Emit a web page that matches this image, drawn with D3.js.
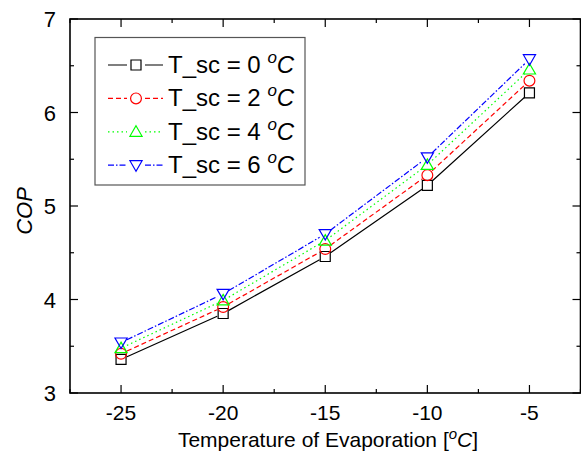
<!DOCTYPE html>
<html><head><meta charset="utf-8">
<script src="https://cdn.jsdelivr.net/npm/d3@7"></script>
<style>body{margin:0;background:#fff}svg{display:block;font-family:"Liberation Sans",Arial,sans-serif}</style>
</head><body><svg id="c" width="581" height="458"></svg>
<script>
const temps = [-25, -20, -15, -10, -5];
const cop0 = [3.36, 3.85, 4.46, 5.22, 6.21];
const cop2 = [3.42, 3.92, 4.54, 5.33, 6.34];
const cop4 = [3.48, 3.99, 4.63, 5.44, 6.46];
const cop6 = [3.54, 4.06, 4.70, 5.52, 6.57];
const seriesLabels = ["0", "2", "4", "6"];
const xTicks = [-25, -20, -15, -10, -5];
const yTicks = [3, 4, 5, 6, 7];

const series = [
  {vals: cop0, label: seriesLabels[0], color: "#000000", dash: null, sym: "square"},
  {vals: cop2, label: seriesLabels[1], color: "#ff0000", dash: "5,3", sym: "circle"},
  {vals: cop4, label: seriesLabels[2], color: "#00ff00", dash: "1.5,3", sym: "up"},
  {vals: cop6, label: seriesLabels[3], color: "#0000ff", dash: "6,2,1.5,2", sym: "down"}
];

const svg = d3.select("#c");
const x = d3.scaleLinear().domain([-27.5, -2.5]).range([70, 580.5]);
const y = d3.scaleLinear().domain([3, 7]).range([393, 19]);
const [x0, x1] = x.range(), [y0, y1] = [y.range()[1], y.range()[0]];

function symPath(kind) {
  if (kind === "square") return d3.symbol(d3.symbolSquare, 100)();
  if (kind === "circle") return d3.symbol(d3.symbolCircle, 92)();
  return d3.symbol(d3.symbolTriangle, 64)();
}
function drawMarker(g, kind, px, py, color) {
  const p = g.append("path").attr("d", symPath(kind))
    .attr("fill", "none").attr("stroke", color).attr("stroke-width", 1.2);
  let t = `translate(${px},${py})`;
  if (kind === "up") t += " translate(0,1)";
  if (kind === "down") t += " translate(0,-1) rotate(180)";
  p.attr("transform", t);
}

// ticks (inward) on all sides
const ax = svg.append("g").attr("stroke", "#000").attr("stroke-width", 1.2);
const xMinor = d3.range(-27.5, -2.4, 2.5);
xMinor.forEach(v => {
  const major = xTicks.includes(v);
  const L = major ? 8 : 4;
  ax.append("line").attr("x1", x(v)).attr("x2", x(v)).attr("y1", y1).attr("y2", y1 - L);
  ax.append("line").attr("x1", x(v)).attr("x2", x(v)).attr("y1", y0).attr("y2", y0 + L);
});
d3.range(3, 7.01, 0.5).forEach(v => {
  const major = Math.abs(v - Math.round(v)) < 1e-6;
  const L = major ? 8 : 4;
  ax.append("line").attr("x1", x0).attr("x2", x0 + L).attr("y1", y(v)).attr("y2", y(v));
  ax.append("line").attr("x1", x1).attr("x2", x1 - L).attr("y1", y(v)).attr("y2", y(v));
});
// frame
svg.append("rect").attr("x", x0).attr("y", y0).attr("width", x1 - x0).attr("height", y1 - y0)
  .attr("fill", "none").attr("stroke", "#000").attr("stroke-width", 1.6);

// tick labels
svg.append("g").selectAll("text").data(xTicks).join("text")
  .attr("x", d => x(d)).attr("y", 420).attr("text-anchor", "middle")
  .attr("font-size", 21).text(d => d);
svg.append("g").selectAll("text").data(yTicks).join("text")
  .attr("x", 56).attr("y", d => y(d) + 8).attr("text-anchor", "end")
  .attr("font-size", 22).text(d => d);

// axis titles
const xt = svg.append("text").attr("x", 328).attr("y", 447).attr("text-anchor", "middle").attr("font-size", 21);
xt.append("tspan").text("Temperature of Evaporation [");
xt.append("tspan").attr("font-style", "italic").attr("font-size", 15).attr("dy", -8).text("o");
xt.append("tspan").attr("font-style", "italic").attr("dy", 8).text("C");
xt.append("tspan").text("]");
svg.append("text").attr("transform", "translate(32,211) rotate(-90)").attr("text-anchor", "middle")
  .attr("font-size", 22).attr("font-style", "italic").text("COP");

// series lines with gaps at markers
const gap = 6.5;
series.forEach(s => {
  const pts = temps.map((t, i) => [x(t), y(s.vals[i])]);
  let d = "";
  for (let i = 0; i < pts.length - 1; i++) {
    const [ax1, ay1] = pts[i], [bx, by] = pts[i + 1];
    const dx = bx - ax1, dy = by - ay1, len = Math.hypot(dx, dy);
    const ux = dx / len, uy = dy / len;
    d += `M${ax1 + ux * gap},${ay1 + uy * gap}L${bx - ux * gap},${by - uy * gap}`;
  }
  svg.append("path").attr("d", d).attr("fill", "none").attr("stroke", s.color)
    .attr("stroke-width", 1.2).attr("stroke-dasharray", s.dash);
});
series.forEach(s => {
  const g = svg.append("g");
  temps.forEach((t, i) => drawMarker(g, s.sym, x(t), y(s.vals[i]), s.color));
});

// legend
const lg = svg.append("g");
lg.append("rect").attr("x", 95).attr("y", 37.5).attr("width", 210).attr("height", 147.5)
  .attr("fill", "#fff").attr("stroke", "#555").attr("stroke-width", 1.2);
series.forEach((s, i) => {
  const cy = 65 + i * 33.4;
  lg.append("path").attr("d", `M108,${cy}H127M145,${cy}H163`).attr("stroke", s.color)
    .attr("stroke-width", 1.2).attr("stroke-dasharray", s.dash).attr("fill", "none");
  drawMarker(lg, s.sym, 136, cy, s.color);
  const t = lg.append("text").attr("x", 168).attr("y", cy + 8).attr("font-size", 24);
  t.append("tspan").text(`T_sc = ${s.label} `);
  t.append("tspan").attr("font-style", "italic").attr("font-size", 17).attr("dy", -10).text("o");
  t.append("tspan").attr("font-style", "italic").attr("dy", 10).text("C");
});
</script></body></html>
